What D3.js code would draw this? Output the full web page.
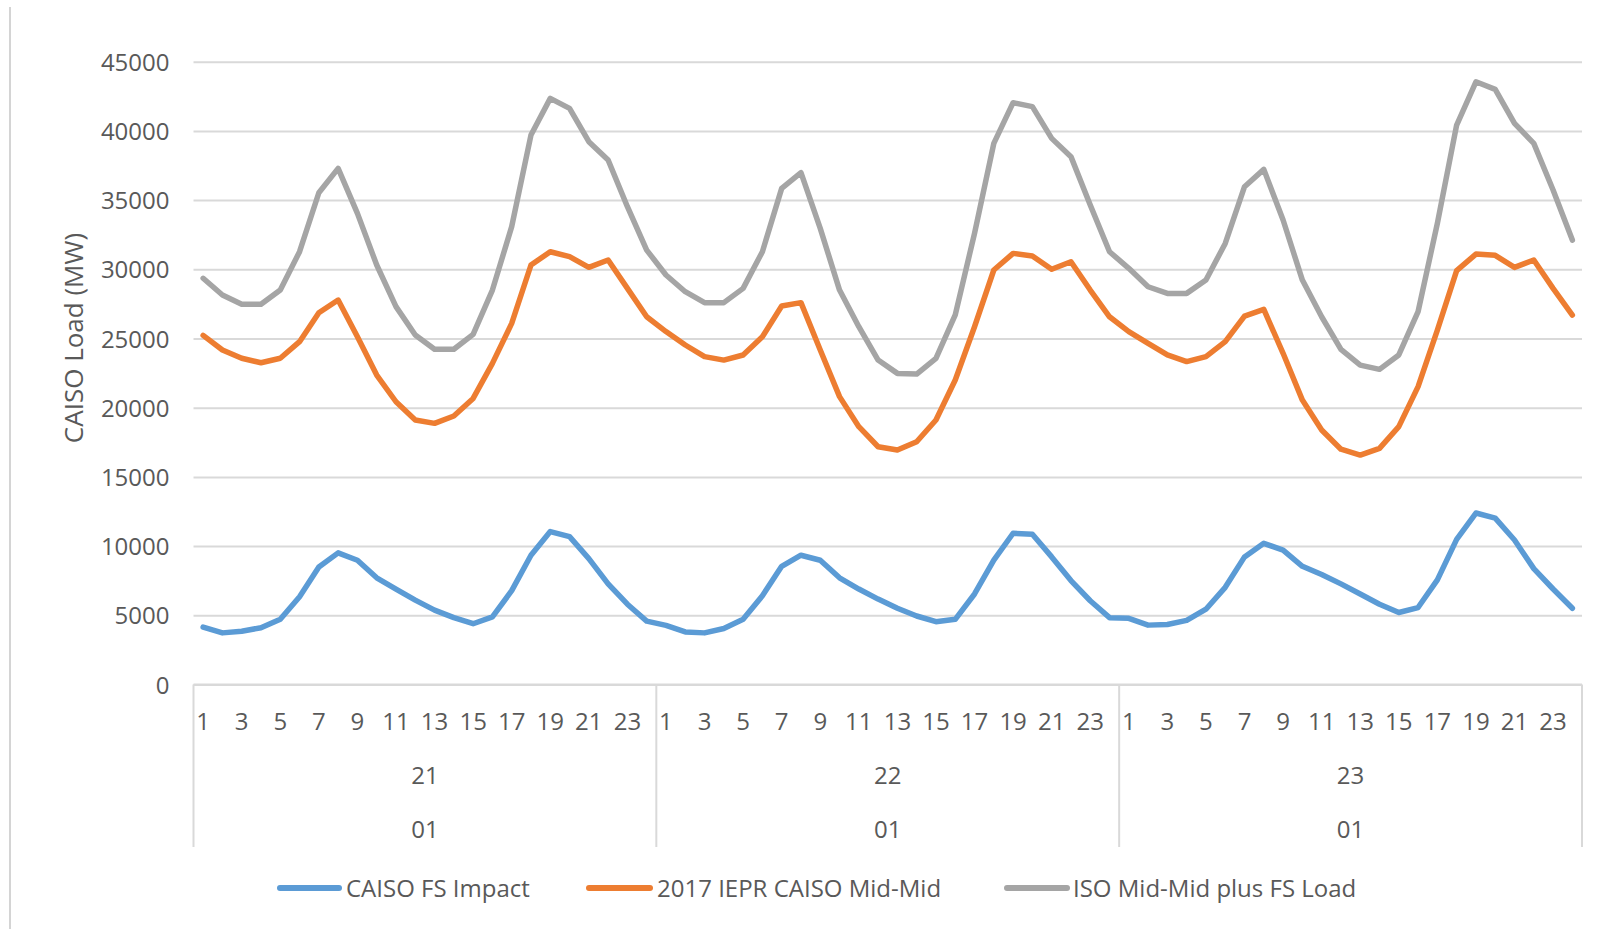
<!DOCTYPE html>
<html>
<head>
<meta charset="utf-8">
<script src="https://cdn.jsdelivr.net/npm/d3@7"></script>
<style>
  html, body { margin: 0; padding: 0; background: #ffffff; }
  svg { display: block; }
  text { font-family: "Open Sans", sans-serif; fill: #595959; }
</style>
</head>
<body>
<svg id="chart" width="1614" height="929"></svg>
<script>
// Hour of day for each day block, day-of-month labels and month label
const hours = d3.range(1, 25);
const days = ["21", "22", "23"];
const monthLabel = "01";
const yTicks = [0, 5000, 10000, 15000, 20000, 25000, 30000, 35000, 40000, 45000];

// Hourly load (MW), 72 hours across the three days
const caisoFsImpact = [
  4150, 3730, 3850, 4100, 4710, 6340, 8490, 9510, 8980, 7710, 6900, 6100, 5370, 4830, 4390, 4880, 6780, 9340, 11050, 10680, 9100, 7270, 5800, 4580,
  4270, 3800, 3730, 4050, 4710, 6410, 8540, 9340, 8980, 7710, 6900, 6170, 5510, 4950, 4540, 4710, 6540, 8980, 10930, 10850, 9220, 7510, 6050, 4830,
  4780, 4290, 4340, 4630, 5440, 7020, 9220, 10200, 9710, 8540, 7950, 7270, 6540, 5800, 5200, 5560, 7560, 10490, 12390, 12020, 10440, 8370, 6900, 5510
];
const ieprMidMid = [
  25230, 24170, 23570, 23250, 23570, 24770, 26860, 27780, 25130, 22360, 20430, 19110, 18870, 19400, 20670, 23200, 26090, 30310, 31270, 30910, 30140, 30670, 28620, 26570,
  25500, 24530, 23690, 23440, 23810, 25130, 27350, 27590, 24170, 20800, 18630, 17180, 16940, 17540, 19110, 22000, 25850, 29950, 31150, 30960, 30000, 30550, 28500, 26570,
  25500, 24650, 23810, 23330, 23690, 24770, 26620, 27100, 23930, 20550, 18390, 17000, 16580, 17060, 18630, 21520, 25610, 29900, 31100, 31010, 30140, 30670, 28620, 26690
];
const isoPlusFsLoad = [
  29350, 28140, 27470, 27470, 28500, 31270, 35530, 37290, 34040, 30310, 27300, 25250, 24220, 24220, 25300, 28500, 33080, 39700, 42350, 41630, 39220, 37900, 34520, 31390,
  29590, 28380, 27590, 27590, 28620, 31270, 35850, 36980, 32960, 28500, 25850, 23440, 22480, 22430, 23570, 26700, 32600, 39100, 42040, 41750, 39460, 38140, 34650, 31270,
  30070, 28740, 28260, 28260, 29220, 31870, 35970, 37220, 33560, 29220, 26570, 24220, 23080, 22770, 23810, 26940, 33320, 40420, 43550, 43000, 40540, 39100, 35730, 32110
];

const seriesNames = ["CAISO FS Impact", "2017 IEPR CAISO Mid-Mid", "ISO Mid-Mid plus FS Load"];
const seriesColors = ["#5B9BD5", "#ED7D31", "#A5A5A5"];
const seriesValues = [caisoFsImpact, ieprMidMid, isoPlusFsLoad];

// Category keys: one per hour of each day
const categories = [];
days.forEach((d, di) => hours.forEach(h => categories.push({ key: d + "-" + h, day: d, dayIndex: di, hour: h })));

const svg = d3.select("#chart");
const plot = { left: 193.5, right: 1582, top: 61.7, bottom: 684.5 };

const x = d3.scaleBand().domain(categories.map(c => c.key)).range([plot.left, plot.right]).padding(0);
const xc = k => x(k) + x.bandwidth() / 2;
const y = d3.scaleLinear().domain([0, 45000]).range([plot.bottom, plot.top]);

const gridColor = "#d9d9d9";

// Outer frame edge on the left
svg.append("line")
  .attr("x1", 10).attr("x2", 10).attr("y1", 7).attr("y2", 929)
  .attr("stroke", "#d4d4d4").attr("stroke-width", 2);

// Value axis with horizontal gridlines
const yAxis = svg.append("g")
  .attr("transform", `translate(${plot.left},0)`)
  .call(d3.axisLeft(y).tickValues(yTicks).tickSize(-(plot.right - plot.left)).tickPadding(24).tickFormat(d3.format("d")));
yAxis.select(".domain").remove();
yAxis.selectAll(".tick line").attr("stroke", gridColor).attr("stroke-width", 2);
yAxis.selectAll(".tick text")
  .attr("font-size", 24).attr("fill", "#595959").attr("dy", "0.36em")
  .style("font-family", "'Open Sans', sans-serif");

// Hour labels (odd hours) under the category axis
const hourAxis = svg.append("g")
  .attr("transform", `translate(0,${plot.bottom})`)
  .call(d3.axisBottom(x)
    .tickValues(categories.filter(c => c.hour % 2 === 1).map(c => c.key))
    .tickSize(0).tickPadding(28)
    .tickFormat(k => categories.find(c => c.key === k).hour));
hourAxis.select(".domain").remove();
hourAxis.selectAll(".tick text")
  .attr("font-size", 24).attr("fill", "#595959")
  .style("font-family", "'Open Sans', sans-serif");

// Multi-level category separators
const groupBottom = 847;
const boundaries = days.map((d, i) => x(d + "-1")).concat([plot.right]);
svg.append("g").selectAll("line").data(boundaries).join("line")
  .attr("x1", d => d).attr("x2", d => d)
  .attr("y1", plot.bottom).attr("y2", groupBottom)
  .attr("stroke", gridColor).attr("stroke-width", 2);

// Day and month labels
const dayCenters = days.map((d, i) => (boundaries[i] + boundaries[i + 1]) / 2);
svg.append("g").selectAll("text").data(days).join("text")
  .attr("x", (d, i) => dayCenters[i]).attr("y", 783.5)
  .attr("text-anchor", "middle").attr("font-size", 24)
  .text(d => d);
svg.append("g").selectAll("text").data(days).join("text")
  .attr("x", (d, i) => dayCenters[i]).attr("y", 837.5)
  .attr("text-anchor", "middle").attr("font-size", 24)
  .text(monthLabel);

// Baseline of the plot
svg.append("line")
  .attr("x1", plot.left).attr("x2", plot.right)
  .attr("y1", y(0)).attr("y2", y(0))
  .attr("stroke", gridColor).attr("stroke-width", 2);

// Series lines
const line = d3.line().x((v, i) => xc(categories[i].key)).y(v => y(v));
svg.append("g").selectAll("path").data(seriesValues).join("path")
  .attr("d", d => line(d))
  .attr("fill", "none")
  .attr("stroke", (d, i) => seriesColors[i])
  .attr("stroke-width", 5.5)
  .attr("stroke-linejoin", "round")
  .attr("stroke-linecap", "round");

// Axis title
svg.append("text")
  .attr("transform", "translate(73,338) rotate(-90)")
  .attr("text-anchor", "middle").attr("dominant-baseline", "central")
  .attr("font-size", 26)
  .text("CAISO Load (MW)");

// Legend
const legendY = 888;
const legendItems = [
  { x1: 280, x2: 339, tx: 346 },
  { x1: 589, x2: 650, tx: 657 },
  { x1: 1007, x2: 1067, tx: 1073 }
];
const legend = svg.append("g").selectAll("g").data(seriesNames).join("g");
legend.append("line")
  .attr("x1", (d, i) => legendItems[i].x1).attr("x2", (d, i) => legendItems[i].x2)
  .attr("y1", legendY).attr("y2", legendY)
  .attr("stroke", (d, i) => seriesColors[i]).attr("stroke-width", 6)
  .attr("stroke-linecap", "round");
legend.append("text")
  .attr("x", (d, i) => legendItems[i].tx).attr("y", legendY + 8.5)
  .attr("font-size", 24)
  .text(d => d);
</script>
</body>
</html>
